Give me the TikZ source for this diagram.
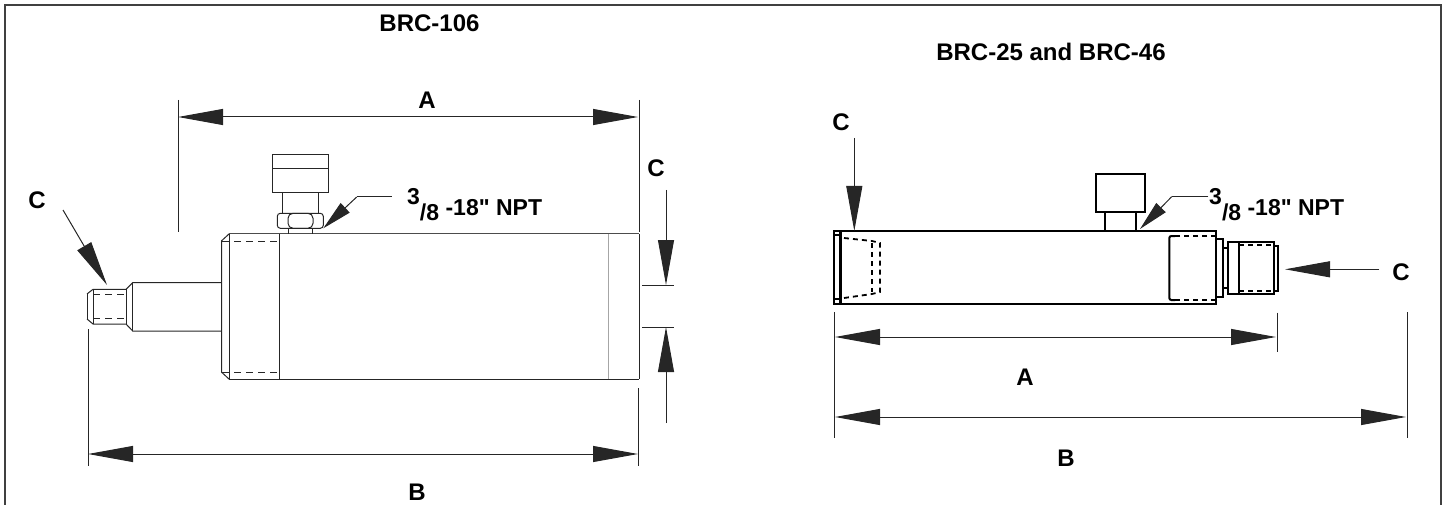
\documentclass[tikz,border=0pt]{standalone}
\usepackage{fontspec}
\setmainfont{Liberation Sans}[Ligatures=TeXOff]
\usetikzlibrary{arrows.meta, positioning}
\tikzset{
  part/.style={line width=1pt, color=black!85},
  heavy/.style={line width=2pt, color=black},
  hidden/.style={line width=1pt, dash pattern=on 7pt off 5pt, color=black!85},
  hiddenheavy/.style={line width=1.8pt, dash pattern=on 5pt off 4pt, color=black},
  dimline/.style={line width=1pt, color=black!85},
  dimboth/.style={dimline, {Triangle[length=45pt,width=16pt]}-{Triangle[length=45pt,width=16pt]}},
  dimone/.style={dimline, -{Triangle[length=45pt,width=16pt]}},
  leader/.style={dimline, -{Triangle[length=30pt,width=13pt]}},
  lbl/.style={font=\fontsize{24}{26}\selectfont\bfseries, inner sep=0pt}
}
\newcommand{\threeeighths}{\fontsize{23}{25}\selectfont\raisebox{11pt}{3}\raisebox{-5pt}{/8} -18" NPT}
\begin{document}
\begin{tikzpicture}[x=1pt, y=-1pt]
  \useasboundingbox (0,0) rectangle (1445,505);
  % frame
  \draw[line width=1.5pt, color=black!75] (5,505) -- (5,5) -- (1441,5) -- (1441,505);
  % titles
  \node[lbl] (title1) at (429.5,23) {BRC-106};
  \node[lbl] (title2) at (1051,52) {BRC-25 and BRC-46};
  % left unit
  \draw[part] (87,294) -- (93,289.3) -- (126,289.3) -- (132.7,282.7) -- (221.7,282.7);
  \draw[part] (87,319) -- (93,324) -- (126,324) -- (132.7,331) -- (221.7,331);
  \draw[part] (87,294) -- (87,319);
  \draw[part] (93,289.3) -- (93,324);
  \draw[part] (126,289.3) -- (126,324);
  \draw[part] (132.7,282.7) -- (132.7,331);
  \draw[hidden] (93,294) -- (126,294);
  \draw[hidden] (93,318) -- (126,318);
  \draw[part] (229.3,233.7) -- (221.7,240.7) -- (221.7,372.3) -- (229.3,379.3);
  \draw[part] (229.3,233.7) -- (229.3,379.3);
  \draw[part] (279.3,233.7) -- (279.3,379.3);
  \draw[part] (229.3,379.3) -- (639.3,379.3);
  \draw[line width=1.5pt, color=black!70] (229.3,233.7) -- (639.3,233.7);
  \draw[part] (639.3,233.7) -- (639.3,379.3);
  \draw[line width=.7pt, color=black!35] (608.3,233.7) -- (608.3,379.3);
  \draw[hidden] (222,241) -- (279,241);
  \draw[hidden] (222,372) -- (279,372);
  % gauge
  \draw[part] (272.3,155) rectangle (328,192.3);
  \draw[part] (272.3,168.3) -- (328,168.3);
  \draw[part] (282.7,192.3) -- (282.7,214);
  \draw[part] (318,192.3) -- (318,214);
  \draw[part, rounded corners=3pt] (277.3,213.3) rectangle (323.3,228.3);
  \draw[part, rounded corners=5pt] (288,213.3) rectangle (313,228.3);
  \draw[part] (288.7,228.3) -- (288.7,233.7);
  \draw[part] (312.3,228.3) -- (312.3,233.7);
  % right unit
  \draw[heavy] (834,230.7) rectangle (1216.3,304);
  \draw[line width=2.6pt] (840.7,230.7) -- (840.7,304);
  \draw[heavy] (834,235) -- (840.7,235);
  \draw[heavy] (834,299) -- (840.7,299);
  \draw[hiddenheavy] (844,238) -- (872,241) -- (880,243) -- (880,292) -- (872,294) -- (844,298);
  \draw[hiddenheavy] (872,243) -- (872,292);
  \draw[hiddenheavy] (1216,236) -- (1172,236);
  \draw[hiddenheavy] (1216,300) -- (1172,300);
  \draw[heavy, rounded corners=2pt] (1175,236) -- (1169.3,236) -- (1169.3,300) -- (1175,300);
  \draw[heavy] (1216.3,238.7) -- (1223.3,238.7) -- (1223.3,297.3) -- (1216.3,297.3);
  \draw[heavy] (1223.3,248) -- (1228.3,248);
  \draw[heavy] (1223.3,288.3) -- (1228.3,288.3);
  \draw[heavy] (1228.3,242) rectangle (1274,294);
  \draw[heavy] (1239.3,242) -- (1239.3,294);
  \draw[hiddenheavy] (1239.3,245) -- (1274,245);
  \draw[hiddenheavy] (1239.3,290.7) -- (1274,290.7);
  \draw[heavy] (1274,245.7) -- (1278.3,245.7) -- (1278.3,290.7) -- (1274,290.7);
  \draw[heavy] (1096,174) rectangle (1145.3,212);
  \draw[heavy] (1105,212) -- (1105,230.7);
  \draw[heavy] (1136,212) -- (1136,230.7);
  % extension lines
  \draw[dimline] (178,100) -- (178,232);
  \draw[dimline] (639.3,100) -- (639.3,232);
  \draw[dimline] (88,329) -- (88,466);
  \draw[dimline] (638,388) -- (638,466);
  \draw[dimline] (642,285) -- (674,285);
  \draw[dimline] (642,327) -- (674,327);
  \draw[dimline] (834,312) -- (834,438);
  \draw[dimline] (1277.3,312.7) -- (1277.3,352);
  \draw[dimline] (1407,312) -- (1407,438);
  % left dimensions
  \coordinate (aL1) at (178,117);
  \coordinate (aL2) at (638,117);
  \coordinate (bL1) at (88,454);
  \coordinate (bL2) at (638,454);
  \draw[dimboth] (aL1) -- (aL2);
  \draw[dimboth] (bL1) -- (bL2);
  \node[lbl] (aL) at (427,100) {A};
  \node[lbl] (bL) at (417,492) {B};
  \node[lbl] (cL1) at (37,200) {C};
  \node[lbl] (cL2) at (656,168.5) {C};
  \coordinate (cL1a) at (63,210);
  \coordinate (cL1b) at (107,285);
  \draw[dimone] (cL1a) -- (cL1b);
  \coordinate (cL2a) at (666,190);
  \coordinate (cL2b) at (666,285);
  \draw[dimone] (cL2a) -- (cL2b);
  \coordinate (cL3a) at (666,423);
  \coordinate (cL3b) at (666,327);
  \draw[dimone] (cL3a) -- (cL3b);
  \node[lbl, anchor=base west] (nptL) at (407,215) {\threeeighths};
  \coordinate (nptLa) at (391.7,197);
  \coordinate (nptLb) at (356.7,197);
  \coordinate (nptLc) at (323.3,228.3);
  \draw[dimline] (nptLa) -- (nptLb);
  \draw[leader] (nptLb) -- (nptLc);
  % right dimensions
  \coordinate (aR1) at (835,337);
  \coordinate (aR2) at (1276,337);
  \coordinate (bR1) at (835,417);
  \coordinate (bR2) at (1406,417);
  \draw[dimboth] (aR1) -- (aR2);
  \draw[dimboth] (bR1) -- (bR2);
  \node[lbl] (aR) at (1025,377) {A};
  \node[lbl] (bR) at (1066,458) {B};
  \node[lbl] (cR1) at (841,122.5) {C};
  \node[lbl] (cR2) at (1401,272) {C};
  \coordinate (cR1a) at (854.3,138);
  \coordinate (cR1b) at (854.3,231);
  \draw[dimone] (cR1a) -- (cR1b);
  \coordinate (cR2a) at (1379.3,269.3);
  \coordinate (cR2b) at (1285,269.3);
  \draw[dimone] (cR2a) -- (cR2b);
  \node[lbl, anchor=base west] (nptR) at (1209,215) {\threeeighths};
  \coordinate (nptRa) at (1208.3,196.7);
  \coordinate (nptRb) at (1171.7,196.7);
  \coordinate (nptRc) at (1140,229);
  \draw[dimline] (nptRa) -- (nptRb);
  \draw[leader] (nptRb) -- (nptRc);
\end{tikzpicture}
\end{document}
